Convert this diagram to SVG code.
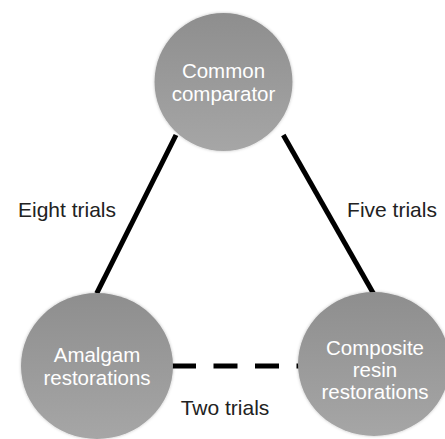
<svg xmlns="http://www.w3.org/2000/svg" width="445" height="439" viewBox="0 0 445 439">
  <defs>
    <linearGradient id="g" x1="0" y1="0" x2="0" y2="1">
      <stop offset="0" stop-color="#8e8e8e"/>
      <stop offset="1" stop-color="#a6a6a6"/>
    </linearGradient>
    <filter id="sh" x="-20%" y="-20%" width="140%" height="140%">
      <feDropShadow dx="0" dy="0" stdDeviation="1.5" flood-color="#000" flood-opacity="0.25"/>
    </filter>
  </defs>
  <style>
    .node { fill: url(#g); filter: url(#sh); }
    .nt { font-family: "Liberation Sans", Arial, sans-serif; font-size: 20.5px; fill: #ffffff; text-anchor: middle; }
    .lbl { font-family: "Liberation Sans", Arial, sans-serif; font-size: 21px; fill: #222222; text-anchor: middle; }
    .edge { stroke: #000; stroke-width: 5; fill: none; }
  </style>
  <rect width="445" height="439" fill="#ffffff"/>
  <g id="connectors">
    <line class="edge" x1="176" y1="135" x2="96.7" y2="293.3"/>
    <line class="edge" x1="283.3" y1="135" x2="373.3" y2="293.3"/>
    <line class="edge" x1="172" y1="366" x2="299" y2="366" stroke-dasharray="24 17.5"/>
    <text class="lbl" x="67" y="217">Eight trials</text>
    <text class="lbl" x="392" y="217">Five trials</text>
    <text class="lbl" x="225" y="415">Two trials</text>
  </g>
  <g id="common">
    <ellipse class="node" cx="223.5" cy="82" rx="69" ry="69"/>
    <text class="nt" x="223.5" y="78">Common</text>
    <text class="nt" x="223.5" y="101">comparator</text>
  </g>
  <g id="amalgam">
    <ellipse class="node" cx="97" cy="366" rx="76" ry="73"/>
    <text class="nt" x="97" y="362">Amalgam</text>
    <text class="nt" x="97" y="385">restorations</text>
  </g>
  <g id="composite">
    <ellipse class="node" cx="374" cy="364" rx="76" ry="72"/>
    <text class="nt" x="375" y="355">Composite</text>
    <text class="nt" x="375" y="377">resin</text>
    <text class="nt" x="375" y="399">restorations</text>
  </g>
</svg>
